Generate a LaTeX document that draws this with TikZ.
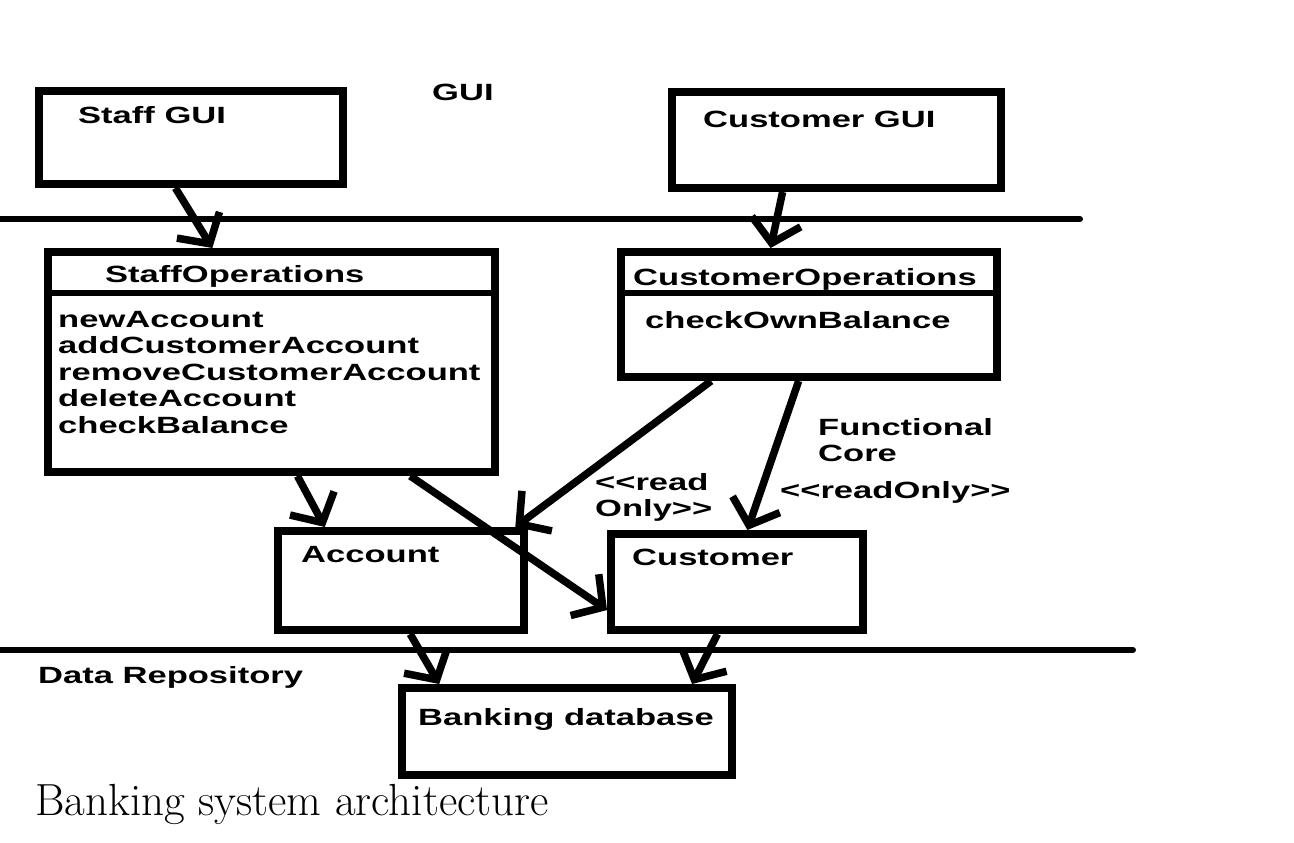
\documentclass[tikz,border=0pt]{standalone}
\usepackage{fontspec}
\newfontfamily\diagfont{Liberation Sans}[FakeStretch=1.47]
\usepackage{tikz}
\usetikzlibrary{arrows.meta,calc}

\begin{document}
\begin{tikzpicture}[x=1pt, y=-1pt,
  box/.style={draw, line width=8pt, inner sep=0pt},
  layerline/.style={line width=6pt, line cap=round},
  divider/.style={line width=6.5pt},
  link/.style={line width=7.5pt, -{Straight Barb[length=22pt, width=50pt]}},
  lbl/.style={anchor=base west, inner sep=0pt, font=\labelfont}]
\def\labelfont{\diagfont\bfseries\fontsize{23.5}{26.5}\selectfont}
\def\methodskip{26.5}
\useasboundingbox (0,0) rectangle (1294,843);

\begin{scope} % GUI LAYER
\node [box, minimum width=304, minimum height=93] (sgui) at (191, 137.5) {};
\node [box, minimum width=329, minimum height=96] (cgui) at (836.5, 140) {};
\node [lbl] (sguitext) at (78, 123) {Staff GUI};
\node [lbl] (cguitext) at (703, 127) {Customer GUI};
\node [lbl] (guilayer) at (432, 100) {GUI};
\draw [layerline] (0, 219) -- (1080, 219);
\end{scope}

\begin{scope} % FUNCTIONAL CORE
\node [box, minimum width=447, minimum height=220] (sops) at (271.5, 362) {};
\draw [divider] ($(sops.north west)+(0pt,-45pt)$) -- ($(sops.north east)+(0pt,-45pt)$);
\node [lbl] (sopstitle) at (105, 282) {StaffOperations};
\foreach \method [count=\i from 0] in {newAccount, addCustomerAccount, removeCustomerAccount, deleteAccount, checkBalance}
  \node [lbl] (sopsm\i) at (58, 327+\i*\methodskip) {\method};

\node [box, minimum width=376, minimum height=125] (cops) at (809, 314.5) {};
\draw [divider] ($(cops.north west)+(0pt,-45pt)$) -- ($(cops.north east)+(0pt,-45pt)$);
\node [lbl] (copstitle) at (633, 285) {CustomerOperations};
\node [lbl] (copsm0) at (645, 328) {checkOwnBalance};

\node [box, minimum width=246, minimum height=99] (acc) at (401, 580.5) {};
\node [box, minimum width=252, minimum height=96] (cust) at (737, 582) {};
\node [lbl] (acctext) at (301, 562) {Account};
\node [lbl] (custtext) at (632, 565) {Customer};

\node [lbl] (corelayer) at (818, 435) {Functional};
\node [lbl] (corelayer2) at (818, 461) {Core};
\node [lbl] (readonlya) at (595, 490) {<{}<read};
\node [lbl] (readonlya2) at (595, 516) {Only>{}>};
\node [lbl] (readonlyb) at (780, 498) {<{}<readOnly>{}>};
\draw [layerline] (0, 650) -- (1133, 650);
\end{scope}

\begin{scope} % DATA REPOSITORY
\node [box, minimum width=330, minimum height=87] (db) at (567, 731.5) {};
\node [lbl] (dbtext) at (418, 725) {Banking database};
\node [lbl] (datalayer) at (38, 683) {Data Repository};
\end{scope}

% connectors
\draw [link] ($(sgui.south west)!0.45!(sgui.south east)$) -- ($(sops.north west)!0.37!(sops.north east)$);
\draw [link] ($(cgui.south west)!0.34!(cgui.south east)$) -- ($(cops.north west)!0.40!(cops.north east)$);
\draw [link] ($(sops.south west)!0.557!(sops.south east)$) -- ($(acc.north west)!0.20!(acc.north east)$);
\draw [link] ($(sops.south west)!0.805!(sops.south east)$) -- ($(cust.north west)!0.77!(cust.south west)$);
\draw [link] ($(cops.south west)!0.245!(cops.south east)$) -- ($(acc.north west)!0.95!(acc.north east)$);
\draw [link] ($(cops.south west)!0.473!(cops.south east)$) -- ($(cust.north west)!0.54!(cust.north east)$);
\draw [link] ($(acc.south west)!0.536!(acc.south east)$) -- ($(db.north west)!0.122!(db.north east)$);
\draw [link] ($(cust.south west)!0.425!(cust.south east)$) -- ($(db.north west)!0.87!(db.north east)$);

\node [anchor=base west, inner sep=0pt, font=\fontsize{45}{54}\selectfont] (caption) at (35, 815) {Banking system architecture};
\end{tikzpicture}
\end{document}
